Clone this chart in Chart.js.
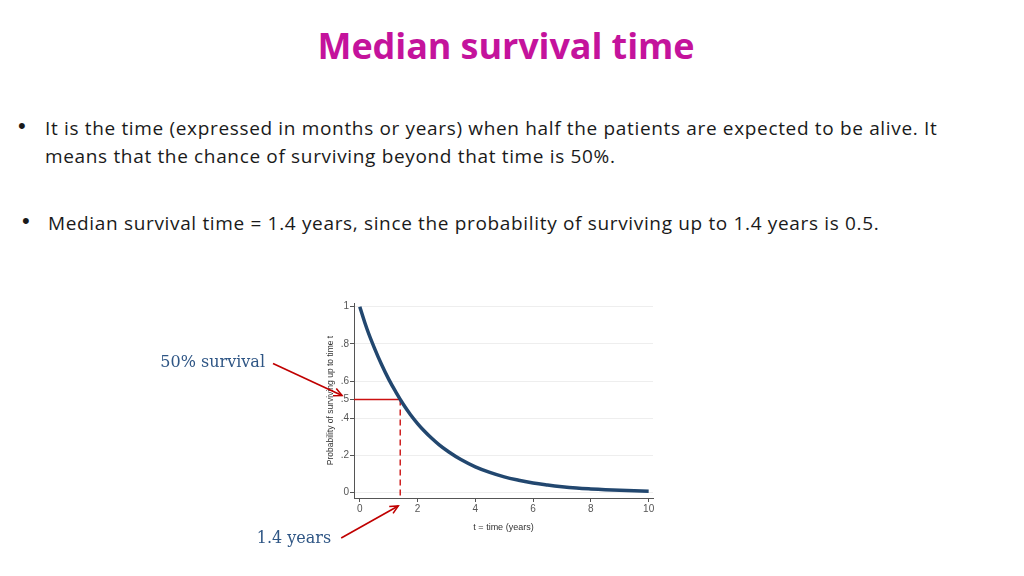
<!DOCTYPE html>
<html><head><meta charset="utf-8">
<script src="https://cdn.jsdelivr.net/npm/chart.js@4/dist/chart.umd.min.js"></script>
<style>
html,body{margin:0;padding:0;background:#fff;width:1024px;height:576px;overflow:hidden;}
#title{position:absolute;left:-6px;width:1024px;top:21px;text-align:center;font-family:"Open Sans",Lato,sans-serif;font-weight:700;font-size:36px;color:#C4139C;letter-spacing:-0.1px;}
.txt{position:absolute;font-family:"Open Sans",Lato,sans-serif;font-size:19px;letter-spacing:0.66px;color:#1a1a1a;line-height:28px;white-space:nowrap;}
.bul{position:absolute;font-family:"Liberation Sans",sans-serif;font-size:22px;color:#1a1a1a;}
#wrap{position:absolute;left:140px;top:295px;width:530px;height:260px;}
</style></head>
<body>
<div id="title">Median survival time</div>
<div class="bul" style="left:18px;top:113px;">•</div>
<div class="txt" style="left:45px;top:114px;">It is the time (expressed in months or years) when half the patients are expected to be alive. It<br>means that the chance of surviving beyond that time is 50%.</div>
<div class="bul" style="left:22px;top:208px;">•</div>
<div class="txt" style="left:48px;top:209px;">Median survival time = 1.4 years, since the probability of surviving up to 1.4 years is 0.5.</div>
<div id="wrap"><canvas id="c"></canvas></div>
<script>
const timeYears = [0,0.25,0.5,0.75,1,1.25,1.5,1.75,2,2.25,2.5,2.75,3,3.5,4,4.5,5,5.5,6,6.5,7,7.5,8,8.5,9,9.5,10];
const survival  = [1.00,0.88,0.78,0.69,0.61,0.54,0.476,0.42,0.371,0.328,0.29,0.256,0.227,0.177,0.138,0.108,0.084,0.066,0.051,0.040,0.031,0.024,0.019,0.015,0.012,0.009,0.007];
const medianTime = 1.4;
const medianProb = 0.5;
const xTicks = [0,2,4,6,8,10];
const yTicks = [0,0.2,0.4,0.5,0.6,0.8,1];
const yTickLabels = ['0','.2','.4','.5','.6','.8','1'];
const xMin = -0.2, xMax = 10.15, yMin = -0.03, yMax = 1.02;

const curve = timeYears.map((t,i)=>({x:t,y:survival[i]}));

const annot = {
  id:'annot',
  afterDraw(chart){
    const ctx = chart.ctx, xs = chart.scales.x, ys = chart.scales.y, a = chart.chartArea;
    function arrow(x1,y1,x2,y2){
      ctx.save();
      ctx.strokeStyle='#C00000'; ctx.lineWidth=1.6;
      ctx.beginPath(); ctx.moveTo(x1,y1); ctx.lineTo(x2,y2); ctx.stroke();
      const ang=Math.atan2(y2-y1,x2-x1), L=9;
      ctx.beginPath();
      ctx.moveTo(x2-L*Math.cos(ang-0.45),y2-L*Math.sin(ang-0.45));
      ctx.lineTo(x2,y2);
      ctx.lineTo(x2-L*Math.cos(ang+0.45),y2-L*Math.sin(ang+0.45));
      ctx.stroke();
      ctx.restore();
    }
    const yp = ys.getPixelForValue(medianProb);
    arrow(a.left-81, yp-36, a.left-12, yp-4);
    const tip2x = xs.getPixelForValue(medianTime)-2, tip2y = a.bottom+8;
    arrow(tip2x-57, tip2y+32, tip2x, tip2y);
    ctx.save();
    ctx.fillStyle='#2F5685';
    ctx.font='16px "DejaVu Serif", serif';
    ctx.textAlign='right'; ctx.textBaseline='middle';
    ctx.fillText('50% survival', a.left-89, yp-37);
    ctx.fillText('1.4 years', tip2x-67, tip2y+33);
    ctx.restore();
  }
};

new Chart(document.getElementById('c'), {
  type:'line',
  data:{datasets:[
    {data:curve, borderColor:'#22476F', borderWidth:3.5, pointRadius:0, tension:0.4, order:1},
    {data:[{x:xMin,y:medianProb},{x:medianTime,y:medianProb}], borderColor:'#CC1111', borderWidth:1.4, pointRadius:0, order:2},
    {data:[{x:medianTime,y:medianProb},{x:medianTime,y:yMin}], borderColor:'#CC1111', borderWidth:1.4, borderDash:[6,4], pointRadius:0, order:2}
  ]},
  options:{
    responsive:true, maintainAspectRatio:false, animation:false,
    layout:{padding:{left:186,right:17,top:8,bottom:22}},
    plugins:{legend:{display:false}, tooltip:{enabled:false}},
    scales:{
      x:{type:'linear', min:xMin, max:xMax,
        afterBuildTicks(s){ s.ticks = xTicks.map(v=>({value:v})); },
        afterFit(s){ s.height = 35; },
        grid:{drawOnChartArea:false, tickLength:4, tickColor:'#555'},
        border:{color:'#555', width:1},
        ticks:{font:{family:'Liberation Sans', size:10}, color:'#555', padding:1, maxRotation:0},
        title:{display:true, text:'t = time (years)', font:{family:'Liberation Sans', size:9}, color:'#333', padding:{top:0,bottom:0}}
      },
      y:{type:'linear', min:yMin, max:yMax,
        afterBuildTicks(s){ s.ticks = yTicks.map(v=>({value:v})); },
        afterFit(s){ s.width = 28; },
        grid:{color:(c)=> (c.tick && c.tick.value===0.5) ? 'rgba(0,0,0,0)' : '#EEEEEE', tickLength:4, tickColor:'#555'},
        border:{color:'#555', width:1},
        ticks:{font:{family:'Liberation Sans', size:10}, color:'#555', padding:1,
          callback:(v)=>{ const i=yTicks.indexOf(v); return i>=0?yTickLabels[i]:''; }},
        title:{display:true, text:'Probability of surviving up to time t', font:{family:'Liberation Sans', size:8.5}, color:'#333', padding:0}
      }
    }
  },
  plugins:[annot]
});
</script>
</body></html>
